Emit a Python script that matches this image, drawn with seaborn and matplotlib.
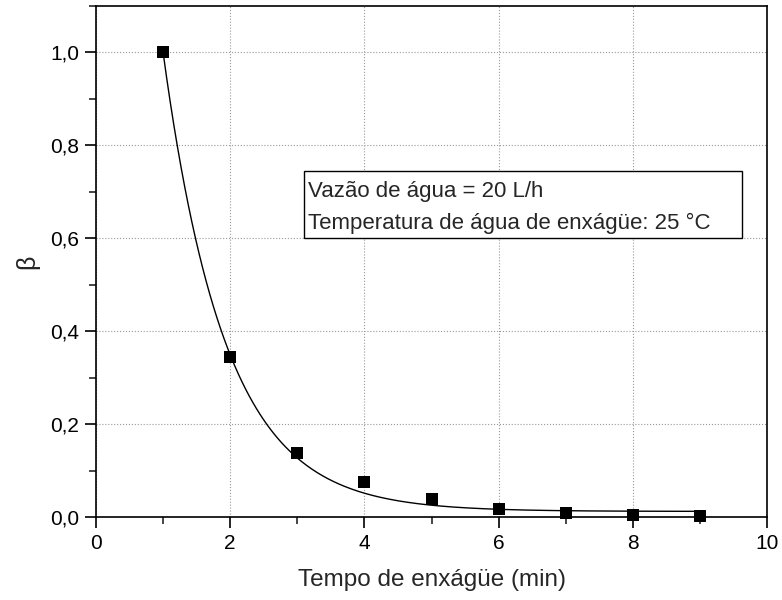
import numpy as np
import pandas as pd
import matplotlib
matplotlib.use("Agg")
import matplotlib.pyplot as plt
import seaborn as sns
from matplotlib.ticker import MultipleLocator, FuncFormatter
from matplotlib.patches import Rectangle

# data
tempo = [1, 2, 3, 4, 5, 6, 7, 8, 9]
beta = [1.0, 0.344, 0.138, 0.075, 0.039, 0.017, 0.008, 0.005, 0.002]

# exponential-decay fit parameters (y = y0 + A*exp(-(x-1)/t))
fit_y0 = 0.012
fit_A = 0.988
fit_t = 0.93

box_lines = ["Vazão de água = 20 L/h", "Temperatura de água de enxágüe: 25 °C"]

sns.set_theme(style="ticks")
plt.rcParams['font.family'] = ['Liberation Sans', 'DejaVu Sans']
plt.rcParams['xtick.direction'] = 'out'
plt.rcParams['ytick.direction'] = 'out'

fig = plt.figure(figsize=(7.82, 6.0), dpi=100)
ax = fig.add_axes([96/782, 1 - 517/600, 671/782, 511/600])

xf = np.linspace(1, 9, 300)
yf = fit_y0 + fit_A * np.exp(-(xf - 1) / fit_t)
df_fit = pd.DataFrame({"x": xf, "y": yf})
df = pd.DataFrame({"x": tempo, "y": beta})

sns.lineplot(data=df_fit, x="x", y="y", ax=ax, color="black", linewidth=1.0)
sns.scatterplot(data=df, x="x", y="y", ax=ax, marker="s", color="black",
                s=75, edgecolor="black", linewidth=0, zorder=5, clip_on=False)

ax.set_xlim(0, 10)
ax.set_ylim(0, 1.1)
ax.xaxis.set_major_locator(MultipleLocator(2))
ax.xaxis.set_minor_locator(MultipleLocator(1))
ax.yaxis.set_major_locator(MultipleLocator(0.2))
ax.yaxis.set_minor_locator(MultipleLocator(0.1))
ax.yaxis.set_major_formatter(FuncFormatter(lambda v, p: f"{v:.1f}".replace('.', ',')))
ax.xaxis.set_major_formatter(FuncFormatter(lambda v, p: f"{v:.0f}"))

ax.grid(True, which='major', linestyle=':', color='#999999', linewidth=0.8)
ax.tick_params(which='major', length=8, width=1.2, labelsize=15, colors='black', pad=4)
ax.tick_params(which='minor', length=5, width=1.2)
for s in ax.spines.values():
    s.set_linewidth(1.2)
    s.set_color('black')

ax.set_xlabel("Tempo de enxágüe (min)", fontsize=17.5, labelpad=12)
ax.set_ylabel("β", fontsize=18, labelpad=8)

ax.add_patch(Rectangle((0.31, 0.546), 0.653, 0.131, transform=ax.transAxes,
                       facecolor='white', edgecolor='black', linewidth=1.0, zorder=6))
ax.text(0.316, 0.637, box_lines[0], transform=ax.transAxes, fontsize=16,
        va='center', ha='left', zorder=7)
ax.text(0.316, 0.575, box_lines[1], transform=ax.transAxes, fontsize=16,
        va='center', ha='left', zorder=7)

fig.savefig("out.png", dpi=100)
